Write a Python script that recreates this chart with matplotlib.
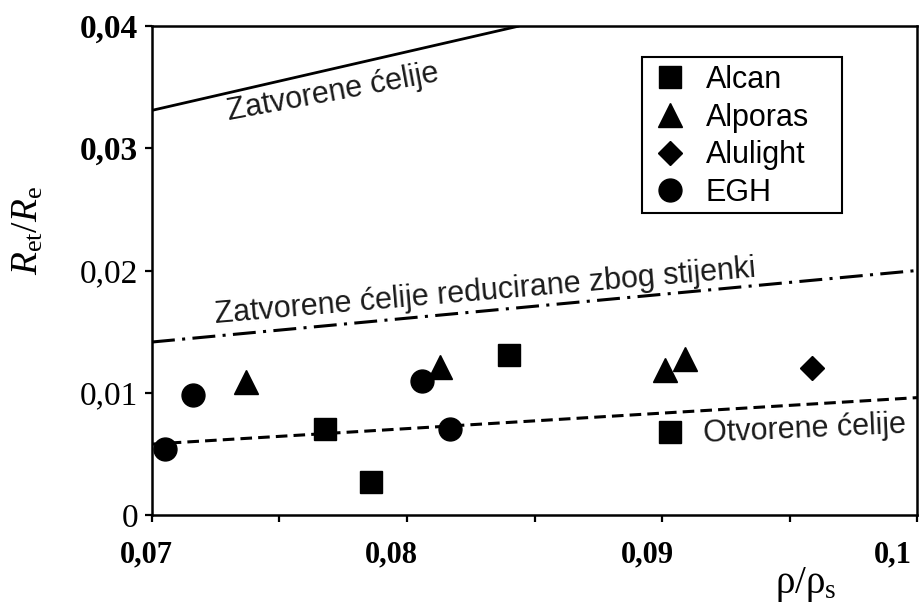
import matplotlib
matplotlib.use("Agg")
import matplotlib.pyplot as plt
from matplotlib.patches import Rectangle
from matplotlib.transforms import ScaledTranslation

# Measured samples: relative density vs. relative strength ratio
alcan_x = [0.0768, 0.0786, 0.0840, 0.0903]
alcan_y = [0.0070, 0.0027, 0.0131, 0.0068]
alporas_x = [0.0737, 0.0813, 0.0901, 0.0909]
alporas_y = [0.0109, 0.0121, 0.0119, 0.0128]
alulight_x = [0.0959]
alulight_y = [0.0120]
egh_x = [0.0705, 0.0716, 0.0806, 0.0817]
egh_y = [0.0054, 0.0098, 0.0110, 0.0070]

# Model lines (endpoints)
closed_x = [0.0700, 0.0844]
closed_y = [0.0331, 0.0400]
reduced_x = [0.0700, 0.1000]
reduced_y = [0.01415, 0.0200]
open_x = [0.0700, 0.1000]
open_y = [0.0058, 0.0096]

xticks_major = [0.07, 0.08, 0.09, 0.10]
xtick_labels = ["0,07", "0,08", "0,09", "0,1"]
xticks_minor = [0.075, 0.085, 0.095]
yticks = [0.0, 0.01, 0.02, 0.03, 0.04]
ytick_labels = ["0", "0,01", "0,02", "0,03", "0,04"]

plt.rcParams["mathtext.fontset"] = "custom"
plt.rcParams["mathtext.rm"] = "Liberation Serif"
plt.rcParams["mathtext.it"] = "Liberation Serif:italic"

W, H, DPI = 921, 607, 100
fig = plt.figure(figsize=(W / DPI, H / DPI), dpi=DPI)
L, R, B, T = 152, 917, 515, 26
ax = fig.add_axes([L / W, (H - B) / H, (R - L) / W, (B - T) / H])

sans = "Liberation Sans"
ms = 16.5

ax.plot(closed_x, closed_y, color="black", lw=2.0, solid_capstyle="butt")
ax.plot(reduced_x, reduced_y, color="black", lw=2.2,
        dashes=[7.5, 2.4, 1.0, 2.4])
ax.plot(open_x, open_y, color="black", lw=2.2, dashes=[3.8, 2.0])

ax.plot(alcan_x, alcan_y, ls="none", marker="s", ms=ms, color="black",
        label="Alcan")
ax.plot(alporas_x, alporas_y, ls="none", marker="^", ms=ms + 1, color="black",
        label="Alporas")
ax.plot(alulight_x, alulight_y, ls="none", marker="D", ms=12.5, color="black",
        label="Alulight")
ax.plot(egh_x, egh_y, ls="none", marker="o", ms=ms, color="black",
        label="EGH")

ax.set_xlim(0.07, 0.10)
ax.set_ylim(0.0, 0.04)

ax.text(0.07299, 0.0323, "Zatvorene ćelije", family=sans, fontsize=22,
        rotation=10.5, rotation_mode="anchor", ha="left", va="baseline",
        color="#1a1a1a")
ax.text(0.07248, 0.0157, "Zatvorene ćelije reducirane zbog stijenki",
        family=sans, fontsize=22, rotation=4.9, rotation_mode="anchor",
        ha="left", va="baseline", color="#1a1a1a")
ax.text(0.09165, 0.0060, "Otvorene ćelije", family=sans, fontsize=22,
        rotation=2.6, rotation_mode="anchor", ha="left", va="baseline",
        color="#1a1a1a")

# Legend entries without their own frame; the box is drawn separately
leg = ax.legend(loc="upper left",
                bbox_to_anchor=((652 - L) / (R - L), (B - 65) / (B - T)),
                borderaxespad=0, frameon=False,
                prop={"family": sans, "size": 22}, labelspacing=0.25,
                handlelength=1.2, handletextpad=0.55, borderpad=0.0)
box = Rectangle(((642 - L) / (R - L), (B - 213) / (B - T)),
                (842 - 642) / (R - L), (213 - 57) / (B - T),
                transform=ax.transAxes, fill=False, edgecolor="black",
                lw=1.5, zorder=5)
ax.add_patch(box)

for s in ax.spines.values():
    s.set_linewidth(1.8)

ax.set_xticks(xticks_major)
ax.set_xticks(xticks_minor, minor=True)
ax.set_xticklabels(xtick_labels, family="Liberation Serif", fontweight="bold",
                   fontsize=22)
ax.set_yticks(yticks)
ax.set_yticklabels(ytick_labels, family="Liberation Serif", fontsize=24)
for lab in ax.get_yticklabels():
    if lab.get_text() in ("0,03", "0,04"):
        lab.set_fontweight("bold")

ax.tick_params(axis="both", which="both", direction="out", length=5,
               width=1.6, color="black")
ax.tick_params(axis="x", which="major", pad=13)
ax.tick_params(axis="y", pad=5)

# Horizontal nudges of the x tick labels, in pixels
x_shifts = [-6, -16, -15, -24]
for lab, dx in zip(ax.get_xticklabels(), x_shifts):
    lab.set_transform(lab.get_transform()
                      + ScaledTranslation(dx / DPI, 0, fig.dpi_scale_trans))

fig.text(28 / W, 1 - 230 / H, r"$R_{\mathrm{et}}/R_{\mathrm{e}}$",
         rotation=90, ha="center", va="center", fontsize=27)
fig.text(806 / W, 1 - 585 / H, r"$\mathrm{ρ/ρ_s}$",
         ha="center", va="center", fontsize=28)

fig.savefig("out.png", dpi=DPI, facecolor="white")
